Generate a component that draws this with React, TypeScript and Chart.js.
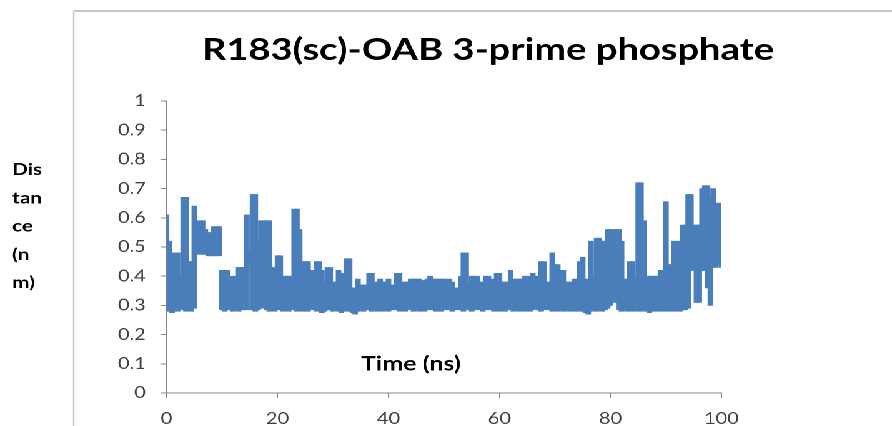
import React, { useEffect, useRef } from "react";
import { Chart, registerables } from "chart.js";

Chart.register(...registerables);

// ---- text ----
const TITLE = "R183(sc)-OAB 3-prime phosphate";
const Y_TITLE_LINES = ["Dis", "tan", "ce", "(n", "m)"];
const X_TITLE = "Time (ns)";

// ---- axes ----
const X_TICKS = [0, 20, 40, 60, 80, 100];
const Y_TICKS = [0, 0.1, 0.2, 0.3, 0.4, 0.5, 0.6, 0.7, 0.8, 0.9, 1];
const Y_TICK_LABELS = ["0", "0.1", "0.2", "0.3", "0.4", "0.5", "0.6", "0.7", "0.8", "0.9", "1"];

// ---- trajectory: distance range sampled every 0.5 ns (0 .. 100 ns) ----
const SAMPLE_STEP_NS = 0.5;

// upper edge of the fluctuating distance (nm)
const distanceMax = [
  0.61, 0.52, 0.45, 0.48, 0.48, 0.40, 0.67, 0.67, 0.45, 0.45,
  0.64, 0.54, 0.59, 0.59, 0.56, 0.55, 0.54, 0.57, 0.57, 0.57,
  0.42, 0.42, 0.42, 0.39, 0.40, 0.40, 0.43, 0.43, 0.43, 0.61,
  0.48, 0.68, 0.68, 0.52, 0.59, 0.59, 0.59, 0.59, 0.43, 0.43,
  0.47, 0.47, 0.40, 0.40, 0.40, 0.40, 0.63, 0.63, 0.56, 0.45,
  0.45, 0.45, 0.42, 0.42, 0.45, 0.45, 0.42, 0.38, 0.43, 0.43,
  0.38, 0.38, 0.42, 0.41, 0.41, 0.46, 0.46, 0.36, 0.36, 0.39,
  0.37, 0.37, 0.37, 0.41, 0.41, 0.38, 0.38, 0.39, 0.38, 0.38,
  0.39, 0.37, 0.37, 0.41, 0.41, 0.38, 0.38, 0.38, 0.39, 0.39,
  0.39, 0.39, 0.385, 0.385, 0.39, 0.40, 0.39, 0.39, 0.39, 0.39,
  0.39, 0.36, 0.39, 0.38, 0.36, 0.36, 0.40, 0.48, 0.48, 0.38,
  0.40, 0.40, 0.40, 0.38, 0.38, 0.40, 0.40, 0.39, 0.39, 0.41,
  0.41, 0.38, 0.38, 0.38, 0.42, 0.39, 0.39, 0.39, 0.39, 0.40,
  0.40, 0.38, 0.41, 0.40, 0.40, 0.45, 0.45, 0.38, 0.38, 0.48,
  0.44, 0.44, 0.42, 0.42, 0.38, 0.38, 0.38, 0.39, 0.39, 0.45,
  0.465, 0.39, 0.39, 0.52, 0.40, 0.53, 0.53, 0.52, 0.52, 0.56,
  0.56, 0.55, 0.56, 0.56, 0.52, 0.39, 0.39, 0.45, 0.45, 0.40,
  0.72, 0.72, 0.59, 0.40, 0.40, 0.40, 0.40, 0.40, 0.42, 0.42,
  0.655, 0.44, 0.44, 0.52, 0.52, 0.44, 0.575, 0.575, 0.68, 0.68,
  0.575, 0.575, 0.575, 0.70, 0.71, 0.71, 0.67, 0.70, 0.65, 0.65,
  0.65,
];

// lower edge of the fluctuating distance (nm)
const distanceMin = [
  0.29, 0.28, 0.275, 0.285, 0.28, 0.29, 0.285, 0.28, 0.285, 0.28,
  0.29, 0.48, 0.475, 0.475, 0.475, 0.47, 0.47, 0.47, 0.47, 0.47,
  0.285, 0.28, 0.285, 0.29, 0.28, 0.285, 0.28, 0.285, 0.29, 0.285,
  0.44, 0.285, 0.28, 0.285, 0.29, 0.31, 0.285, 0.28, 0.285, 0.28,
  0.285, 0.29, 0.28, 0.285, 0.28, 0.285, 0.29, 0.28, 0.285, 0.28,
  0.285, 0.28, 0.29, 0.285, 0.28, 0.285, 0.275, 0.28, 0.285, 0.29,
  0.28, 0.285, 0.28, 0.275, 0.28, 0.285, 0.28, 0.275, 0.27, 0.28,
  0.285, 0.28, 0.285, 0.29, 0.28, 0.285, 0.28, 0.285, 0.28, 0.285,
  0.28, 0.285, 0.29, 0.285, 0.28, 0.285, 0.28, 0.29, 0.285, 0.28,
  0.285, 0.28, 0.285, 0.28, 0.285, 0.29, 0.285, 0.28, 0.285, 0.28,
  0.285, 0.29, 0.285, 0.28, 0.285, 0.29, 0.285, 0.28, 0.29, 0.285,
  0.28, 0.285, 0.29, 0.285, 0.28, 0.285, 0.29, 0.285, 0.28, 0.285,
  0.28, 0.285, 0.28, 0.29, 0.285, 0.28, 0.285, 0.28, 0.285, 0.28,
  0.285, 0.28, 0.285, 0.29, 0.285, 0.28, 0.285, 0.29, 0.285, 0.28,
  0.285, 0.28, 0.285, 0.28, 0.285, 0.28, 0.285, 0.28, 0.28, 0.285,
  0.28, 0.275, 0.27, 0.28, 0.285, 0.28, 0.285, 0.28, 0.285, 0.29,
  0.30, 0.32, 0.31, 0.285, 0.28, 0.285, 0.28, 0.285, 0.28, 0.285,
  0.28, 0.285, 0.28, 0.285, 0.275, 0.28, 0.285, 0.28, 0.285, 0.28,
  0.285, 0.28, 0.285, 0.28, 0.285, 0.28, 0.285, 0.285, 0.29, 0.42,
  0.42, 0.31, 0.31, 0.42, 0.42, 0.36, 0.30, 0.43, 0.43, 0.44,
  0.43,
];

// ---- look ----
const LINE_COLOR = "#4a7ebb";
const AXIS_COLOR = "#868686";
const TICK_TEXT = "#404040";
const FRAME_COLOR = "#c6c6c6";
const FONT = "Lato, 'Open Sans', sans-serif";

// The figure is laid out on a narrower canvas and widened horizontally.
const BASE_W = 714;
const BASE_H = 426;
const STRETCH = 892 / BASE_W;

const decorPlugin = {
  id: "figureDecor",
  afterDraw(chart: any) {
    const ctx: CanvasRenderingContext2D = chart.ctx;
    ctx.save();

    // chart frame (top and left edges)
    ctx.strokeStyle = FRAME_COLOR;
    ctx.lineWidth = 2;
    ctx.beginPath();
    ctx.moveTo(59, 11);
    ctx.lineTo(BASE_W, 11);
    ctx.stroke();
    ctx.lineWidth = 1.2;
    ctx.beginPath();
    ctx.moveTo(59, 11);
    ctx.lineTo(59, BASE_H);
    ctx.stroke();

    // title
    ctx.fillStyle = "#000";
    ctx.textAlign = "center";
    ctx.textBaseline = "alphabetic";
    ctx.font = `bold 30.5px ${FONT}`;
    ctx.fillText(TITLE, 390.6, 60);

    // wrapped y-axis title
    ctx.textAlign = "left";
    ctx.font = `bold 16.5px ${FONT}`;
    Y_TITLE_LINES.forEach((line, i) => {
      ctx.fillText(line, 9.8, 175 + i * 28.3);
    });

    // x-axis title sits inside the plot area
    ctx.font = `bold 20px ${FONT}`;
    ctx.fillText(X_TITLE, 289, 370.7);

    ctx.restore();
  },
};

export default function App() {
  const canvasRef = useRef<HTMLCanvasElement | null>(null);

  useEffect(() => {
    if (!canvasRef.current) return;

    // each sample is drawn as a floating bar spanning its min..max distance
    const ranges = distanceMax.map((hi, i) => ({
      x: i * SAMPLE_STEP_NS,
      y: [distanceMin[i], hi],
    }));

    const chart = new Chart(canvasRef.current, {
      type: "bar",
      data: {
        datasets: [
          {
            label: "distance",
            data: ranges as any,
            backgroundColor: LINE_COLOR,
            borderWidth: 0,
            borderSkipped: false,
            barPercentage: 1,
            categoryPercentage: 1,
            barThickness: 3.8,
          },
        ],
      },
      options: {
        animation: false,
        responsive: true,
        maintainAspectRatio: false,
        devicePixelRatio: 2,
        layout: { padding: { left: 0, right: 136.5, top: 101, bottom: 0 } },
        plugins: {
          legend: { display: false },
          title: { display: false },
          tooltip: { enabled: false },
        },
        scales: {
          x: {
            type: "linear",
            min: 0,
            max: 100,
            offset: false,
            afterBuildTicks: (scale: any) => {
              scale.ticks = X_TICKS.map((v) => ({ value: v }));
            },
            afterFit: (scale: any) => {
              scale.height = 33;
            },
            ticks: {
              color: TICK_TEXT,
              font: { family: FONT, size: 16 },
              padding: 11,
              maxRotation: 0,
              autoSkip: false,
              callback: (v: any) => String(v),
            },
            grid: {
              offset: false,
              drawOnChartArea: false,
              drawTicks: true,
              tickLength: 5,
              color: AXIS_COLOR,
            },
            border: { display: true, color: AXIS_COLOR, width: 1 },
          },
          y: {
            type: "linear",
            min: 0,
            max: 1,
            afterBuildTicks: (scale: any) => {
              scale.ticks = Y_TICKS.map((v) => ({ value: v }));
            },
            afterFit: (scale: any) => {
              scale.width = 133.3;
            },
            ticks: {
              color: TICK_TEXT,
              font: { family: FONT, size: 16 },
              padding: 12,
              autoSkip: false,
              callback: (v: any) => {
                const idx = Y_TICKS.findIndex((t) => Math.abs(t - v) < 1e-6);
                return idx >= 0 ? Y_TICK_LABELS[idx] : "";
              },
            },
            grid: {
              drawOnChartArea: false,
              drawTicks: true,
              tickLength: 4.6,
              color: AXIS_COLOR,
            },
            border: { display: true, color: AXIS_COLOR, width: 1 },
          },
        },
      },
      plugins: [decorPlugin],
    });

    return () => chart.destroy();
  }, []);

  return (
    <div
      style={{
        position: "absolute",
        left: 0,
        top: 0,
        width: BASE_W,
        height: BASE_H,
        background: "#fff",
        transform: `scaleX(${STRETCH})`,
        transformOrigin: "0 0",
      }}
    >
      <canvas ref={canvasRef} />
    </div>
  );
}
